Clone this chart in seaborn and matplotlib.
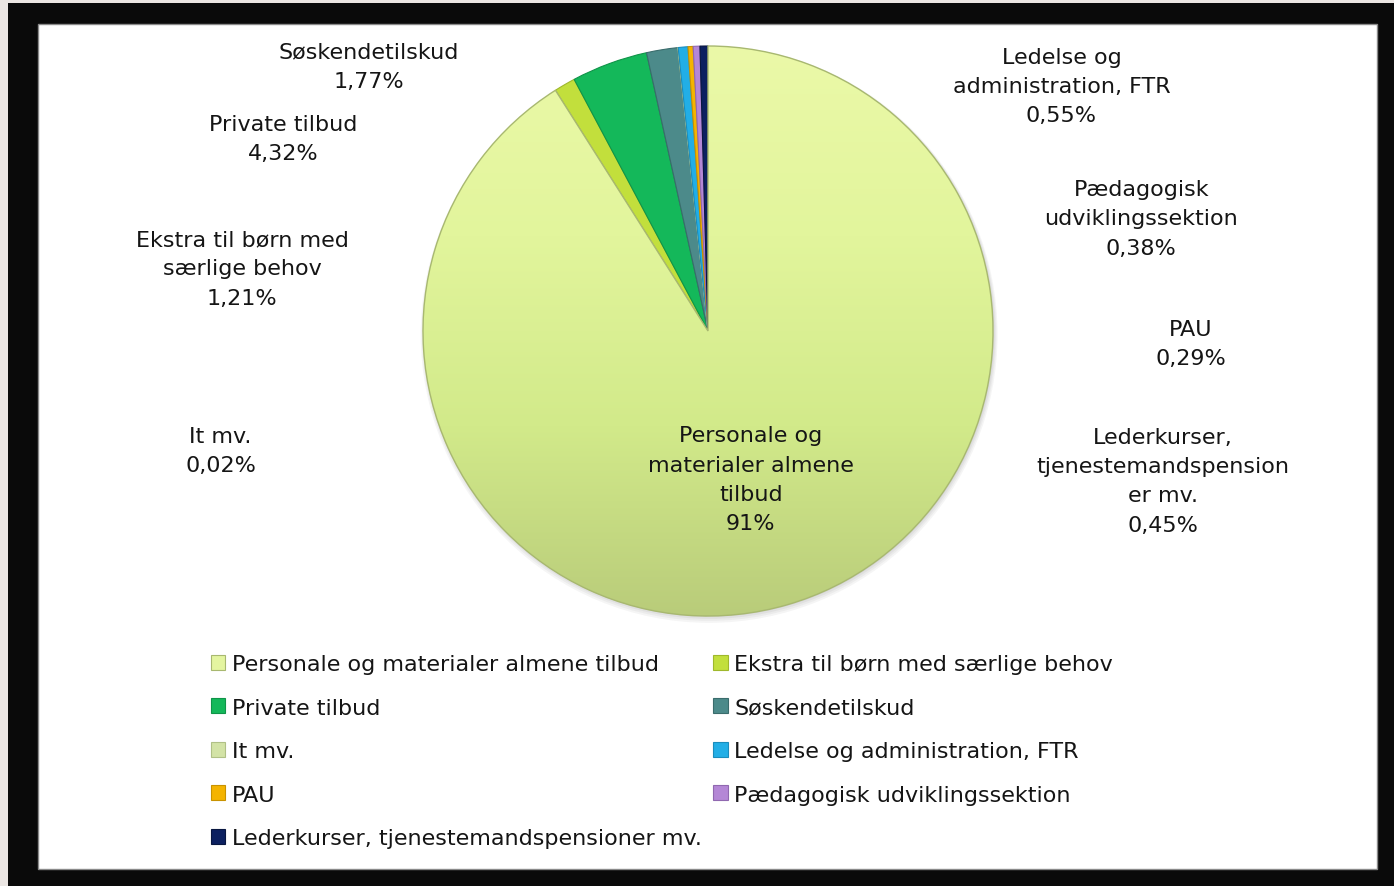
import matplotlib
matplotlib.use("Agg")
import matplotlib.pyplot as plt
from matplotlib.patches import Rectangle, Patch, Circle
from matplotlib.colors import LinearSegmentedColormap
import numpy as np
import seaborn as sns

# ---- data ----
categories = [
    "Personale og materialer almene tilbud",
    "Ekstra til børn med særlige behov",
    "Private tilbud",
    "Søskendetilskud",
    "It mv.",
    "Ledelse og administration, FTR",
    "PAU",
    "Pædagogisk udviklingssektion",
    "Lederkurser, tjenestemandspensioner mv.",
]
values = [91.0, 1.21, 4.32, 1.77, 0.02, 0.55, 0.29, 0.38, 0.45]
value_labels = ["91%", "1,21%", "4,32%", "1,77%", "0,02%", "0,55%", "0,29%", "0,38%", "0,45%"]
label_texts = [
    "Personale og\nmaterialer almene\ntilbud",
    "Ekstra til børn med\nsærlige behov",
    "Private tilbud",
    "Søskendetilskud",
    "It mv.",
    "Ledelse og\nadministration, FTR",
    "PAU",
    "Pædagogisk\nudviklingssektion",
    "Lederkurser,\ntjenestemandspension\ner mv.",
]
colors = ["#e4f5a0", "#c2df3c", "#14b85a", "#4c8a8a", "#d3e3a6",
          "#22aee6", "#f4b400", "#b487d6", "#0c2060"]
edge_cols = ["#a8b870", "#9fb82c", "#0f9448", "#3a6c6c", "#b0c086",
             "#1a8cbc", "#c89200", "#9068b0", "#081640"]
# label anchor positions (in pie-radius units)
label_pos = [(0.15, -0.52), (-1.635, 0.22), (-1.49, 0.675), (-1.19, 0.93),
             (-1.71, -0.42), (1.24, 0.86), (1.695, -0.045), (1.52, 0.395),
             (1.595, -0.525)]

sns.set_theme(style="white")
plt.rcParams["font.family"] = ["DejaVu Sans"]

W, H = 1394, 887
fig = plt.figure(figsize=(W / 100, H / 100), dpi=100)
fig.patch.set_facecolor("#ebe6e3")
# black frame and white panel
fig.patches.append(Rectangle((8 / W, 0), 1, (H - 4) / H, transform=fig.transFigure,
                             facecolor="#0a0a0a", edgecolor="none", zorder=0))
fig.patches.append(Rectangle((38 / W, 17 / H), (1377 - 38) / W, (870 - 25) / H,
                             transform=fig.transFigure, facecolor="white",
                             edgecolor="#8a8a8a", linewidth=1.0, zorder=1))

ax = fig.add_axes([0, 0, 1, 1])
ax.set_zorder(3)
ax.set_facecolor("none")
R = 285.0
cx, cy = 708.0, H - 332.0

# soft drop shadow
for k, a in enumerate([0.05, 0.05, 0.06, 0.07]):
    ax.add_patch(Circle((0.004, -0.012 + 0.003 * k), 1.0 + 0.012 - 0.004 * k,
                        facecolor="#404040", edgecolor="none", alpha=a, zorder=0.5))

wedges, _ = ax.pie(values, colors=colors, startangle=90, counterclock=False,
                   radius=1.0, wedgeprops=dict(linewidth=0.8))
for w, ec in zip(wedges, edge_cols):
    w.set_edgecolor(ec)

# vertical shading of the main slice
cmap = LinearSegmentedColormap.from_list("shade", ["#b9cc7a", "#d2ea8a", "#e2f59c", "#ebf9a8"])
grad = np.linspace(0, 1, 256).reshape(-1, 1)
im = ax.imshow(grad, cmap=cmap, extent=[-1, 1, -1, 1], origin="lower",
               aspect="auto", zorder=1.05, interpolation="bilinear")
im.set_clip_path(wedges[0])
wedges[0].set_zorder(1.1)
wedges[0].set_facecolor("none")
wedges[0].set_linewidth(1.0)

ax.set_xlim(-cx / R, (W - cx) / R)
ax.set_ylim(-cy / R, (H - cy) / R)
ax.set_aspect("equal", adjustable="box")
ax.axis("off")

fs = 16
for txt, val, (x, y) in zip(label_texts, value_labels, label_pos):
    ax.text(x, y, txt + "\n" + val, ha="center", va="center", fontsize=fs,
            color="#151515", linespacing=1.58, zorder=5)

# legend in row-major order
order = [0, 2, 4, 6, 8, 1, 3, 5, 7]
handles = [Patch(facecolor=colors[i], edgecolor=edge_cols[i], linewidth=0.8) for i in order]
labels = [categories[i] for i in order]
leg = fig.legend(handles, labels, loc="upper left",
                 bbox_to_anchor=(211 / W, (H - 655) / H), bbox_transform=fig.transFigure,
                 ncol=2, frameon=False, fontsize=fs, handlelength=0.65, handleheight=0.65,
                 handletextpad=0.3, columnspacing=0.5, labelspacing=1.06,
                 borderpad=0, borderaxespad=0)
for t in leg.get_texts():
    t.set_color("#151515")

fig.savefig("out.png", dpi=100, facecolor=fig.get_facecolor())
